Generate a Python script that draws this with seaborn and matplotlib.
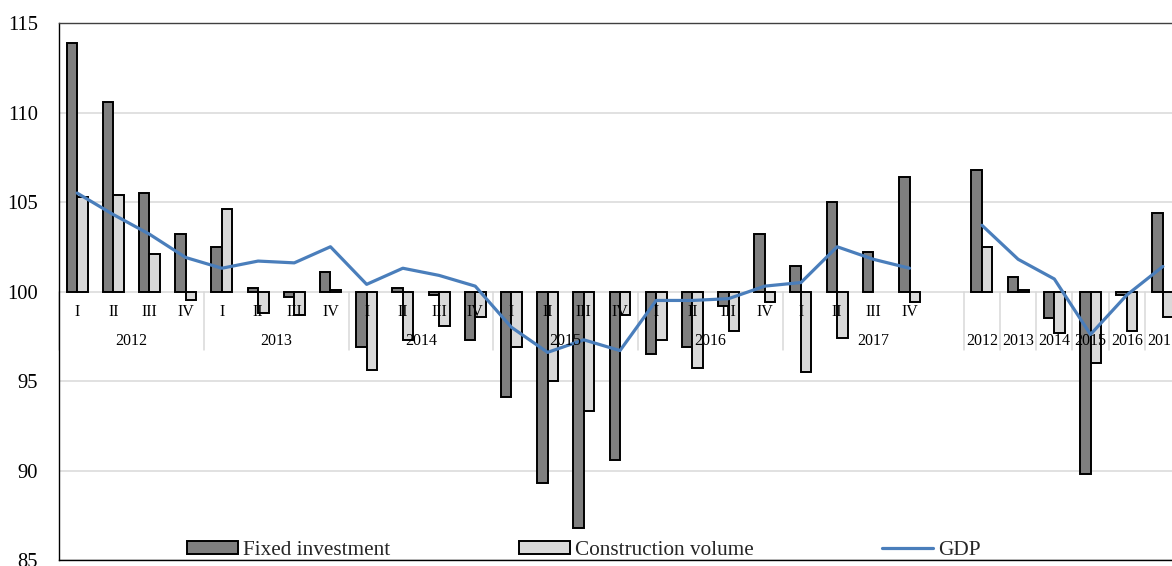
import numpy as np
import pandas as pd
import matplotlib
matplotlib.use("Agg")
import matplotlib.pyplot as plt
import matplotlib.transforms as mtransforms
from matplotlib.patches import Patch
from matplotlib.lines import Line2D
import seaborn as sns

# ---- data -----------------------------------------------------------------
years = ["2012", "2013", "2014", "2015", "2016", "2017"]
quarters = ["I", "II", "III", "IV"]

# quarterly indices (same period of previous year = 100)
fixed_quarterly = [113.9, 110.6, 105.5, 103.2,
                   102.5, 100.2, 99.7, 101.1,
                   96.9, 100.2, 99.8, 97.3,
                   94.1, 89.3, 86.8, 90.6,
                   96.5, 96.9, 99.2, 103.2,
                   101.4, 105.0, 102.2, 106.4]
construction_quarterly = [105.3, 105.4, 102.1, 99.5,
                          104.6, 98.8, 98.7, 100.1,
                          95.6, 97.3, 98.1, 98.6,
                          96.9, 95.0, 93.3, 98.7,
                          97.3, 95.7, 97.8, 99.4,
                          95.5, 97.4, np.nan, 99.4]
gdp_quarterly = [105.5, 104.3, 103.2, 101.9,
                 101.3, 101.7, 101.6, 102.5,
                 100.4, 101.3, 100.9, 100.3,
                 98.0, 96.6, 97.3, 96.7,
                 99.5, 99.5, 99.6, 100.3,
                 100.5, 102.5, 101.8, 101.3]

# annual indices
fixed_annual = [106.8, 100.8, 98.5, 89.8, 99.8, 104.4]
construction_annual = [102.5, 100.1, 97.7, 96.0, 97.8, 98.6]
gdp_annual = [103.7, 101.8, 100.7, 97.6, 99.8, 101.4]

series_names = ["Fixed investment", "Construction volume", "GDP"]
colors = {"Fixed investment": "#7F7F7F", "Construction volume": "#D9D9D9", "GDP": "#4A7EBB"}

# ---- layout of category slots ----------------------------------------------
n_q = len(years) * len(quarters)
q_pos = np.arange(n_q)                       # quarterly slots
a_pos = np.arange(len(years)) + n_q + 1      # annual slots, one empty slot before them
n_slots = n_q + 1 + len(years)

rows = []
for name, qv, av in [(series_names[0], fixed_quarterly, fixed_annual),
                     (series_names[1], construction_quarterly, construction_annual)]:
    for p, v in zip(np.concatenate([q_pos, a_pos]), list(qv) + list(av)):
        rows.append({"pos": float(p), "value": v, "series": name})
df = pd.DataFrame(rows).dropna()
df["change"] = df["value"] - 100.0

# ---- figure ----------------------------------------------------------------
sns.set_style("white")
plt.rcParams["font.family"] = ["Liberation Serif", "DejaVu Serif"]

W, H = 1172, 566
fig = plt.figure(figsize=(W / 100, H / 100), dpi=100)
ax_left, ax_bottom, ax_w, ax_h = 59, 6, 1122, 537
ax = fig.add_axes([ax_left / W, ax_bottom / H, ax_w / W, ax_h / H])

y_min, y_max = 85, 115
base = 100.0
edge_lw = 1.4

sns.barplot(data=df, x="pos", y="change", hue="series", hue_order=series_names[:2],
            palette=colors, native_scale=True, width=0.58, errorbar=None,
            bottom=base, edgecolor="black", linewidth=edge_lw, legend=False,
            ax=ax, zorder=3)

sns.lineplot(x=q_pos, y=gdp_quarterly, color=colors["GDP"], linewidth=2.3,
             errorbar=None, ax=ax, zorder=4)
sns.lineplot(x=a_pos, y=gdp_annual, color=colors["GDP"], linewidth=2.3,
             errorbar=None, ax=ax, zorder=4)

ax.set_xlim(-0.5, n_slots - 0.5)
ax.set_ylim(y_min, y_max)
ax.set_yticks(np.arange(y_min, y_max + 1, 5))
ax.set_xticks([])
ax.set_xlabel("")
ax.set_ylabel("")
ax.tick_params(axis="y", length=0, pad=15, labelsize=14.8, labelcolor="black")

ax.grid(axis="y", color="#D9D9D9", linewidth=1.1)
ax.set_axisbelow(True)
for side in ["left", "bottom"]:
    ax.spines[side].set_color("black")
    ax.spines[side].set_linewidth(1.0)
ax.spines["top"].set_color("#404040")
ax.spines["top"].set_linewidth(1.0)
ax.spines["right"].set_visible(False)

# ---- two-level category labels along the 100 line ----------------------------
trans = mtransforms.blended_transform_factory(ax.transData, ax.transAxes)
base_frac = (base - y_min) / (y_max - y_min)
sep_len = 58 / ax_h
lab_kw = dict(ha="center", va="center", fontsize=11.5, color="black",
              textcoords="offset points", zorder=6, annotation_clip=False)

for yi, yr in enumerate(years):
    for qi, q in enumerate(quarters):
        p = q_pos[yi * len(quarters) + qi]
        ax.annotate(q, xy=(p, base), xytext=(0, -14.4), **lab_kw)

edges = [q_pos[i * len(quarters)] - 0.5 for i in range(len(years))] + [a_pos[0] - 0.5]
for yi, yr in enumerate(years):
    mid = (edges[yi] + edges[yi + 1]) / 2
    ax.annotate(yr, xy=(mid, base), xytext=(0, -35.3), **lab_kw)
for yi, yr in enumerate(years):
    ax.annotate(yr, xy=(a_pos[yi], base), xytext=(0, -35.3), **lab_kw)

sep_x = edges + [p + 0.5 for p in a_pos]
for x in sep_x:
    ax.plot([x, x], [base_frac, base_frac - sep_len], transform=trans,
            color="#D9D9D9", linewidth=1.1, zorder=2, clip_on=False)

# ---- legend ----------------------------------------------------------------
handles = [Patch(facecolor=colors[series_names[0]], edgecolor="black", linewidth=edge_lw),
           Patch(facecolor=colors[series_names[1]], edgecolor="black", linewidth=edge_lw),
           Line2D([], [], color=colors["GDP"], linewidth=2.3)]
ax.legend(handles, series_names, ncol=3, frameon=False, loc="center left",
          bbox_to_anchor=((187 - ax_left) / ax_w, 0.0177), borderpad=0,
          borderaxespad=0, fontsize=15.3, handlelength=2.4, handleheight=0.55,
          handletextpad=0.24, columnspacing=6.05)

fig.savefig("out.png", dpi=100)
